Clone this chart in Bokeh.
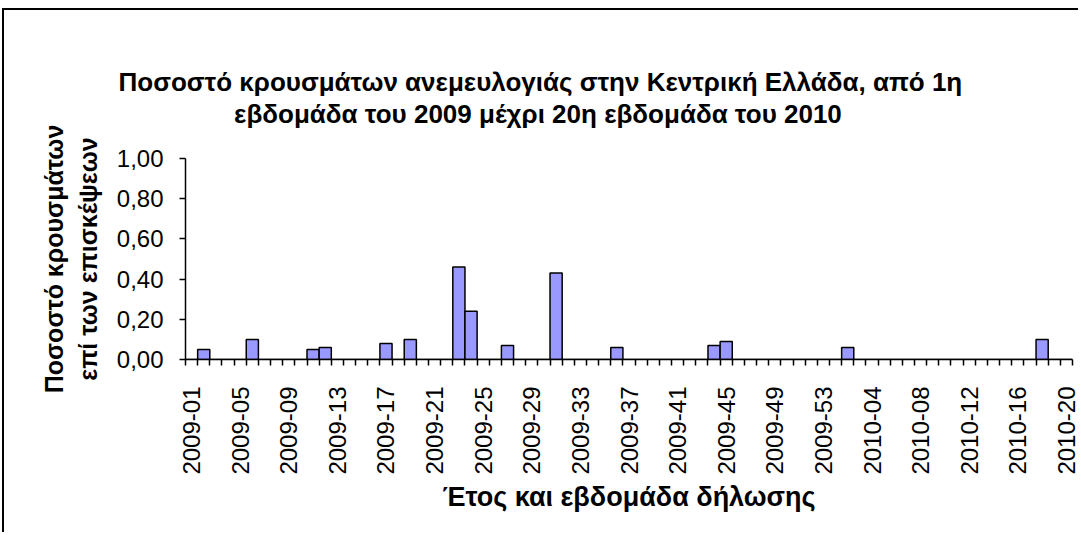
import math
from bokeh.plotting import figure
from bokeh.models import CustomJSTickFormatter, FixedTicker, Range1d
from bokeh.embed import file_html
from bokeh.resources import INLINE

# ---- data ----
weeks_2009 = ["2009-%02d" % w for w in range(1, 54)]
weeks_2010 = ["2010-%02d" % w for w in range(1, 21)]
categories = weeks_2009 + weeks_2010

rates_2009 = [
    0.00, 0.05, 0.00, 0.00, 0.00, 0.10, 0.00, 0.00, 0.00, 0.00,   # 01-10
    0.05, 0.06, 0.00, 0.00, 0.00, 0.00, 0.08, 0.00, 0.10, 0.00,   # 11-20
    0.00, 0.00, 0.46, 0.24, 0.00, 0.00, 0.07, 0.00, 0.00, 0.00,   # 21-30
    0.43, 0.00, 0.00, 0.00, 0.00, 0.06, 0.00, 0.00, 0.00, 0.00,   # 31-40
    0.00, 0.00, 0.00, 0.07, 0.09, 0.00, 0.00, 0.00, 0.00, 0.00,   # 41-50
    0.00, 0.00, 0.00,                                             # 51-53
]
rates_2010 = [
    0.00, 0.06, 0.00, 0.00, 0.00, 0.00, 0.00, 0.00, 0.00, 0.00,   # 01-10
    0.00, 0.00, 0.00, 0.00, 0.00, 0.00, 0.00, 0.10, 0.00, 0.00,   # 11-20
]
rates = rates_2009 + rates_2010

y_ticks = [0.0, 0.2, 0.4, 0.6, 0.8, 1.0]

title_line1 = "Ποσοστό κρουσμάτων ανεμευλογιάς στην Κεντρική Ελλάδα, από 1η"
title_line2 = "εβδομάδα του 2009 μέχρι 20η εβδομάδα του 2010"
y_title = "Ποσοστό κρουσμάτων\nεπί των επισκέψεων"
x_title = "Έτος και εβδομάδα δήλωσης"

FONT = "Liberation Sans"

# ---- figure ----
n = len(categories)
xs = list(range(1, n + 1))

W, H = 1076, 524
p = figure(
    width=W, height=H,
    x_range=Range1d(0.5, n + 0.5), y_range=Range1d(0, 1),
    output_backend="svg", toolbar_location=None,
    min_border_left=181, min_border_right=8,
    min_border_top=148, min_border_bottom=175,
)
p.styles = {"border-left": "2px solid black", "border-top": "2px solid black",
            "margin-left": "2px", "margin-top": "8px"}
p.outline_line_color = None
p.xgrid.grid_line_color = None
p.ygrid.grid_line_color = None
p.background_fill_color = "white"
p.border_fill_color = "white"

# title: one two-line block; the second line is indented (no-break spaces)
# so that both lines appear centred over the chart
p.title.text = title_line1 + "\n" + "\u00a0" * 16 + title_line2
p.title.align = "left"
p.title.offset = -67
p.title.standoff = 60
p.title.text_font = FONT
p.title.text_font_size = "26px"
p.title.text_font_style = "bold"
p.title.text_color = "black"
p.title.text_line_height = 1.05

p.vbar(x=xs, top=rates, width=1.0, bottom=0,
       fill_color="#9999FF", line_color="black", line_width=1.5)

# x axis
label_pos = xs[::4]
boundaries = [x - 0.5 for x in xs] + [n + 0.5]
xa = p.xaxis[0]
xa.ticker = FixedTicker(ticks=label_pos, minor_ticks=boundaries)
xa.formatter = CustomJSTickFormatter(args=dict(labels=categories),
                                     code="return labels[Math.round(tick) - 1];")
xa.major_tick_line_color = None
xa.major_tick_out = 6
xa.major_tick_in = 0
xa.minor_tick_line_color = "black"
xa.minor_tick_line_width = 1.5
xa.minor_tick_out = 6
xa.minor_tick_in = 0
xa.axis_line_color = "black"
xa.axis_line_width = 1.5
xa.major_label_orientation = math.pi / 2
xa.major_label_standoff = 21
xa.major_label_text_font = FONT
xa.major_label_text_font_size = "24px"
xa.major_label_text_color = "black"
xa.axis_label = x_title
xa.axis_label_text_font = FONT
xa.axis_label_text_font_size = "27px"
xa.axis_label_text_font_style = "bold"
xa.axis_label_text_color = "black"
xa.axis_label_standoff = 4

# y axis
ya = p.yaxis[0]
ya.ticker = FixedTicker(ticks=y_ticks)
ya.formatter = CustomJSTickFormatter(code="return tick.toFixed(2).replace('.', ',');")
ya.major_tick_out = 6
ya.major_tick_in = 0
ya.major_tick_line_width = 1.5
ya.minor_tick_line_color = None
ya.axis_line_color = "black"
ya.axis_line_width = 1.5
ya.major_label_standoff = 16
ya.major_label_text_font = FONT
ya.major_label_text_font_size = "24px"
ya.major_label_text_color = "black"
ya.axis_label = y_title
ya.axis_label_text_font = FONT
ya.axis_label_text_font_size = "25px"
ya.axis_label_text_font_style = "bold"
ya.axis_label_text_color = "black"
ya.axis_label_standoff = 12

open("out.html", "w").write(file_html(p, INLINE))
